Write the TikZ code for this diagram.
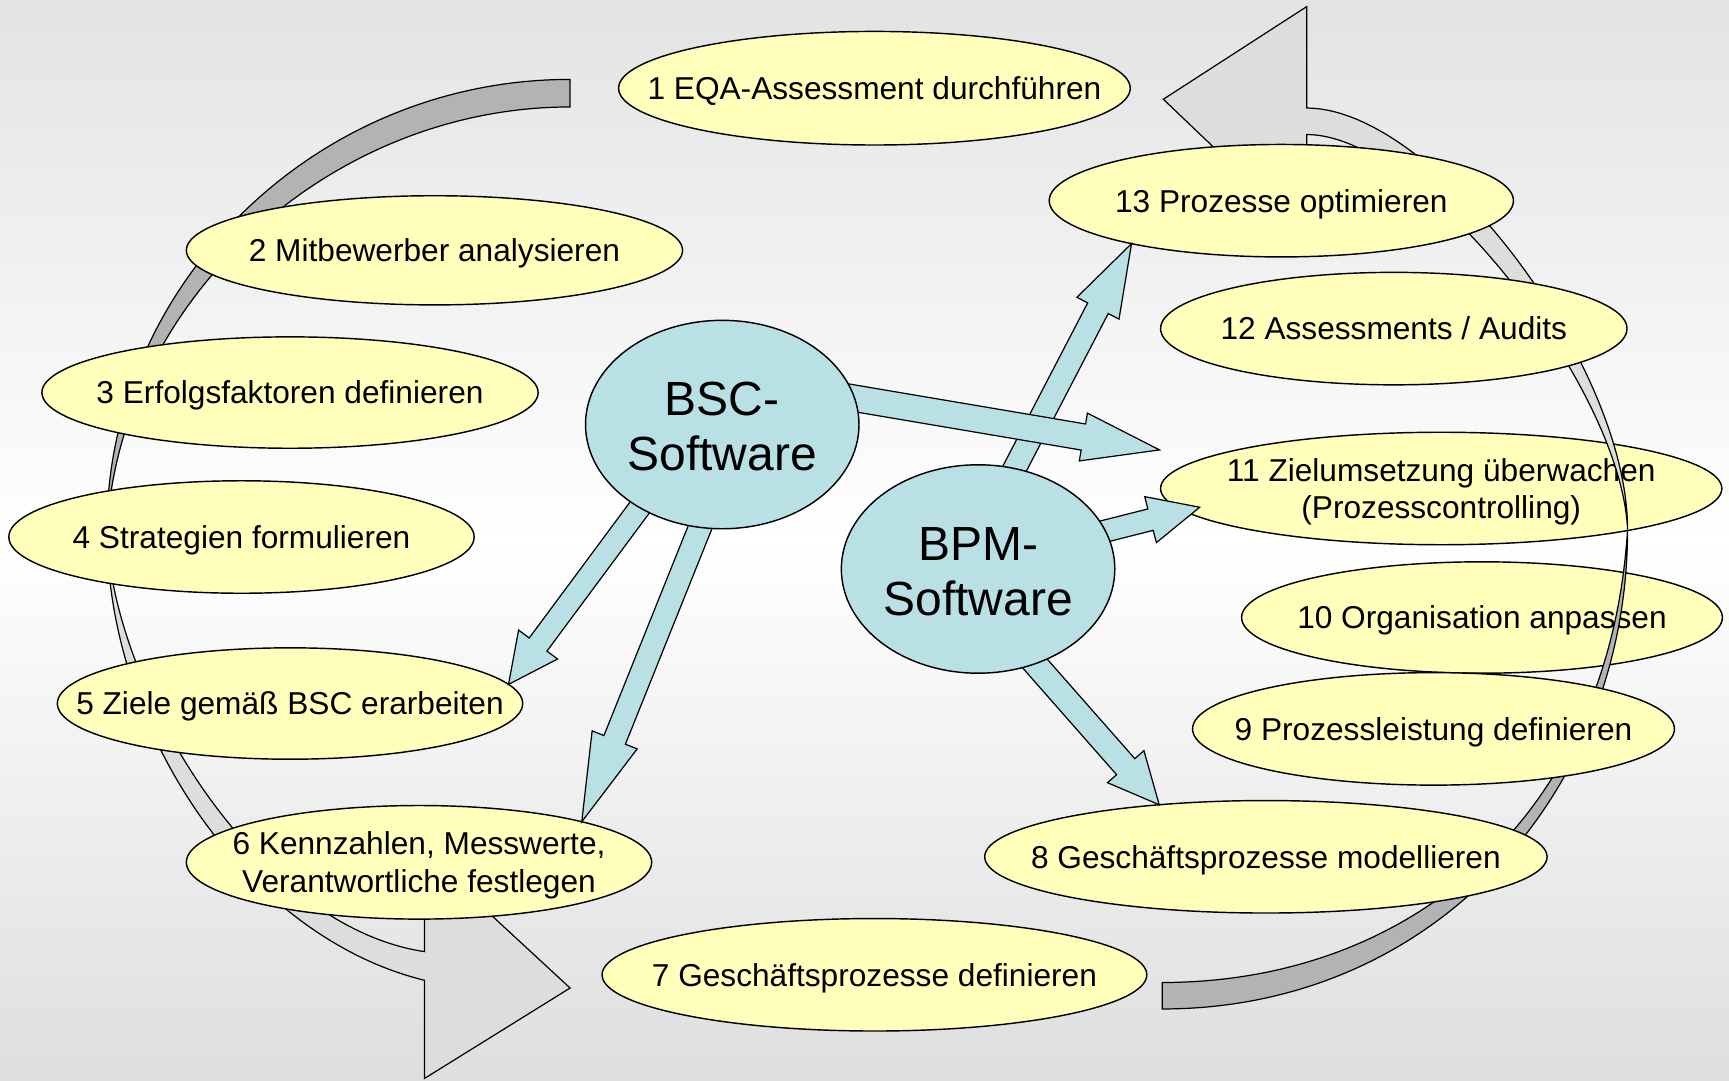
\documentclass[tikz,border=0pt]{standalone}
\usepackage{fontspec}
\setmainfont{Liberation Sans}
\usetikzlibrary{shapes.geometric,calc}
\definecolor{ellyellow}{HTML}{FFFFBB}
\definecolor{swblue}{HTML}{B9E0E4}
\definecolor{ringdark}{HTML}{B3B3B3}
\definecolor{ringlight}{HTML}{DDDDDD}
\definecolor{bgtop}{HTML}{E3E3E3}
\definecolor{bgbot}{HTML}{DEDEDE}
\newcommand\zbox[2][3.5pt]{\makebox[0pt]{\raisebox{-#1}[\height][\depth]{\begin{tabular}{@{}c@{}}#2\end{tabular}}}}
% #1 name, #2 start, #3 tip, #4 shaft half width, #5 head half width, #6 head length
\newcommand\blockarr[6]{%
  \coordinate (#1b) at ($(#3)!#6pt!(#2)$);
  \filldraw[bluearrow] ($(#2)!#4pt!90:(#3)$) -- ($(#1b)!#4pt!-90:(#2)$) -- ($(#1b)!#5pt!-90:(#2)$) -- (#3) -- ($(#1b)!#5pt!90:(#2)$) -- ($(#1b)!#4pt!90:(#2)$) -- ($(#2)!#4pt!-90:(#3)$) -- cycle;
}
\tikzset{
  stage/.style={ellipse, draw=black, line width=1.3pt, fill=ellyellow, inner sep=0pt, outer sep=0pt, font=\fontsize{28.7}{34}\selectfont},
  soft/.style={ellipse, draw=black, line width=1.3pt, fill=swblue, inner sep=0pt, outer sep=0pt, minimum width=248, minimum height=189, font=\fontsize{43.5}{50}\selectfont},
  bluearrow/.style={fill=swblue, draw=black, line width=1.1pt, line join=miter},
  ringback/.style={fill=ringdark, draw=black, line width=1.1pt, line join=miter},
  ringfront/.style={fill=ringlight, draw=black, line width=1.1pt, line join=miter}
}
\begin{document}
\begin{tikzpicture}[x=1pt,y=-1pt]
\useasboundingbox (0,0) rectangle (1568,980);
\shade[top color=bgtop, bottom color=bgbot, middle color=white] (0,0) rectangle (1568,980);

% left circular arrow
\filldraw[ringback] (517,72) .. controls (284,72) and (97,260) .. (97,480) .. controls (110,270) and (300,97) .. (517,97) -- cycle;
\filldraw[ringfront] (97,480) .. controls (97,665) and (225,850) .. (385,889) -- (385,978) -- (517,896) -- (385,774) -- (385,863) .. controls (230,840) and (100,620) .. (97,480) -- cycle;

% ellipses under the right ring
\node[stage, minimum width=436, minimum height=101] (e10) at (1344,560) {\zbox{10 Organisation anpassen}};
\node[stage, minimum width=509, minimum height=102] (e11) at (1307,443) {\zbox{11 Zielumsetzung überwachen\\(Prozesscontrolling)}};

% right circular arrow
\filldraw[ringback] (1054,915) .. controls (1300,915) and (1476,720) .. (1476,480) .. controls (1460,740) and (1280,891) .. (1054,891) -- cycle;
\filldraw[ringfront] (1476,480) .. controls (1476,330) and (1300,98) .. (1185,98) -- (1185,6) -- (1055,90) -- (1185,214) -- (1185,122) .. controls (1290,122) and (1470,350) .. (1476,480) -- cycle;

% other stage ellipses
\node[stage, minimum width=464, minimum height=103] (e1) at (793,80) {\zbox{1 EQA-Assessment durchführen}};
\node[stage, minimum width=450, minimum height=99] (e2) at (394,227) {\zbox{2 Mitbewerber analysieren}};
\node[stage, minimum width=450, minimum height=101] (e3) at (263,356) {\zbox{3 Erfolgsfaktoren definieren}};
\node[stage, minimum width=422, minimum height=102] (e4) at (219,487) {\zbox{4 Strategien formulieren}};
\node[stage, minimum width=422, minimum height=101] (e5) at (263,638) {\zbox{5 Ziele gemäß BSC erarbeiten}};
\node[stage, minimum width=422, minimum height=103] (e6) at (380,782) {\zbox{6 Kennzahlen, Messwerte,\\Verantwortliche festlegen}};
\node[stage, minimum width=494, minimum height=102] (e7) at (793,884) {\zbox{7 Geschäftsprozesse definieren}};
\node[stage, minimum width=510, minimum height=102] (e8) at (1148,777) {\zbox{8 Geschäftsprozesse modellieren}};
\node[stage, minimum width=437, minimum height=102] (e9) at (1300,661) {\zbox{9 Prozessleistung definieren}};
\node[stage, minimum width=423, minimum height=102] (e12) at (1264,298) {\zbox{12 Assessments / Audits}};
\node[stage, minimum width=421, minimum height=102] (e13) at (1162,182) {\zbox{13 Prozesse optimieren}};

% software centres (positions)
\coordinate (bscc) at (655,385);
\coordinate (bpmc) at (887,516);
\coordinate (sA) at ($(bscc)+(-45,35)$);
\coordinate (sB) at ($(bscc)+(-8,63)$);
\coordinate (sC) at ($(bscc)+(101,-27)$);
\coordinate (tC) at ($(e11.west)+(-1,-35)$);
\coordinate (sD) at ($(bpmc)+(24,-73.5)$);
\coordinate (sE) at ($(bpmc)+(7,-7)$);
\coordinate (tE) at ($(e11)+(-219,17)$);
\coordinate (sF) at ($(bpmc)+(-1,26)$);

% block arrows
\blockarr{aD}{sD}{e13.196}{10.5}{21.5}{66}
\blockarr{aC}{sC}{tC}{12}{22}{70}
\blockarr{aA}{sA}{e5.5}{10}{22}{45}
\blockarr{aB}{sB}{e6.14}{10.5}{22}{80}
\blockarr{aE}{sE}{tE}{10}{21.5}{46}
\blockarr{aF}{sF}{e8.154}{11}{22}{46}

% software ellipses
\node[soft] (bsc) at (bscc) {\zbox[7pt]{BSC-\\Software}};
\node[soft] (bpm) at (bpmc) {\zbox[7pt]{BPM-\\Software}};
\end{tikzpicture}
\end{document}
